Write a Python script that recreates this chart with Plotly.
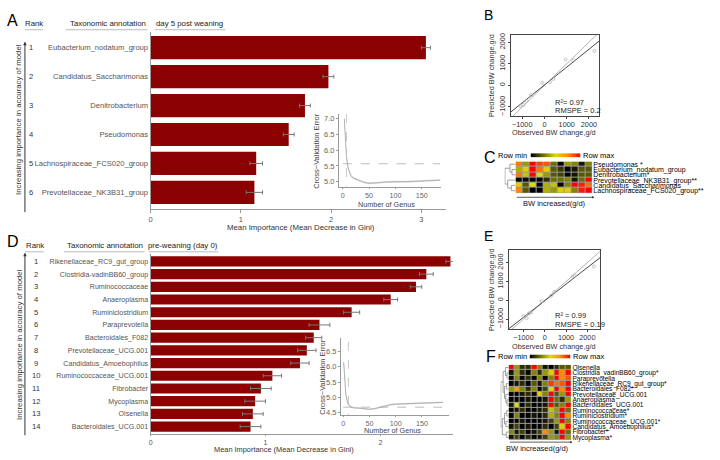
import numpy as np
import plotly.graph_objects as go

W, H = 720, 460
def px(x): return x / W
def py(y): return 1 - y / H

FONT = "Liberation Sans, Arial, sans-serif"
BAR = "#8B0000"

# ---------------- Panel A : day 5 post weaning ----------------
genus_A = ["Eubacterium_nodatum_group", "Candidatus_Saccharimonas", "Denitrobacterium",
           "Pseudomonas", "Lachnospiraceae_FCS020_group", "Prevotellaceae_NK3B31_group"]
imp_A = [3.05, 1.97, 1.71, 1.53, 1.17, 1.15]
err_A = [0.05, 0.06, 0.06, 0.06, 0.07, 0.09]

ngenus_A = [3, 5, 7, 10, 15, 20, 25, 30, 40, 50, 60, 70, 80, 90, 100, 120, 140, 160, 185]
cv_A = [7.0, 6.3, 5.8, 5.45, 5.2, 5.12, 5.08, 5.05, 4.98, 4.95, 4.95, 4.97, 4.99, 5.0, 5.0, 5.0, 5.01, 5.02, 5.05]
cv_A_sd = [0.12, 0.1, 0.08, 0.06, 0.05, 0.04, 0.04, 0.03, 0.03, 0.03, 0.03, 0.03, 0.03, 0.03, 0.03, 0.03, 0.03, 0.03, 0.03]
cv_A_cut = 5.57
cv_A_best = 7

# ---------------- Panel D : pre-weaning (day 0) ----------------
genus_D = ["Rikenellaceae_RC9_gut_group", "Clostridia-vadinBB60_group", "Ruminococcaceae",
           "Anaeroplasma", "Ruminiclostridium", "Paraprevotella", "Bacteroidales_F082",
           "Prevotellaceae_UCG.001", "Candidatus_Amoebophilus", "Ruminococcaceae_UCG.001",
           "Fibrobacter", "Mycoplasma", "Olsenella", "Bacteroidales_UCG.001"]
imp_D = [2.61, 2.40, 2.31, 2.09, 1.75, 1.47, 1.42, 1.36, 1.30, 1.06, 0.96, 0.91, 0.89, 0.87]
err_D = [0.04, 0.06, 0.05, 0.06, 0.07, 0.09, 0.07, 0.08, 0.08, 0.08, 0.09, 0.09, 0.09, 0.09]

ngenus_D = [1, 3, 5, 8, 10, 15, 20, 30, 40, 50, 60, 70, 80, 90, 100, 120, 140, 160, 190]
cv_D = [6.15, 5.6, 5.1, 4.85, 4.75, 4.68, 4.65, 4.64, 4.63, 4.6, 4.62, 4.67, 4.72, 4.75, 4.77, 4.79, 4.8, 4.81, 4.83]
cv_D_sd = [0.12, 0.1, 0.08, 0.05, 0.04, 0.03, 0.03, 0.03, 0.03, 0.03, 0.03, 0.03, 0.03, 0.03, 0.03, 0.03, 0.03, 0.03, 0.03]
cv_D_cut = 4.67
cv_D_best = 10

# ---------------- Panels B / E : observed vs predicted ----------------
obs_B = [-1100, -950, -800, -600, -100, 250, 400, 950, 1300, 2250]
pred_B = [-950, -900, -720, -450, 120, 150, 300, 1200, 1150, 1600]
stats_B = ["R²= 0.97", "RMSPE = 0.2"]

obs_E = [-1000, -850, -750, -650, -150, 300, 450, 1300, 1400, 2300]
pred_E = [-850, -950, -700, -650, -50, 250, 450, 1250, 1300, 1800]
stats_E = ["R² = 0.99", "RMSPE = 0.19"]

bw_ticks = [-1000, 0, 1000, 2000]

# ---------------- Panels C / F : heatmaps (row-scaled) ----------------
rows_C = ["Pseudomonas *", "Eubacterium_nodatum_group", "Denitrobacterium*",
          "Prevotellaceae_NK3B31_group**", "Candidatus_Saccharimonas", "Lachnospiraceae_FCS020_group**"]
z_C = [
    [0.78, 0.35, 1.0, 0.88, 0.85, 0.25, 0.0, 0.35, 0.3, 0.05, 0.3],
    [0.4, 0.55, 1.0, 0.8, 0.55, 0.2, 0.12, 0.0, 0.05, 0.2, 0.2],
    [0.78, 0.45, 1.0, 0.5, 0.35, 0.2, 0.15, 0.0, 0.05, 0.2, 0.2],
    [0.0, 0.02, 0.0, 0.0, 0.1, 0.25, 0.25, 0.3, 0.05, 0.25, 1.0],
    [0.55, 0.2, 0.5, 0.0, 0.4, 0.45, 0.0, 0.3, 1.0, 0.95, 0.8],
    [0.75, 0.2, 0.0, 0.0, 0.4, 0.35, 0.55, 0.55, 0.3, 0.95, 1.0],
]
tree_C = (3.0, (1.6, 0, (1.0, 1, 2)), (2.2, 3, (1.2, 4, 5)))

rows_F = ["Olsenella", "Clostridia_vadinBB60_group*", "Paraprevotella", "Rikenellaceae_RC9_gut_group*",
          "Bacteroidales_F082*", "Prevotellaceae_UCG.001", "Anaeroplasma", "Bacteroidales_UCG.001",
          "Ruminococcaceae*", "Ruminiclostridium*", "Ruminococcaceae_UCG.001*",
          "Candidatus_Amoebophilus*", "Fibrobacter*", "Mycoplasma*"]
z_F = [
    [1.0, 0.35, 0.1, 0.1, 1.0, 0.3, 0.05, 0.0, 0.1, 0.2, 0.2],
    [0.05, 0.35, 0.1, 0.0, 0.3, 0.1, 0.35, 0.55, 1.0, 0.75, 1.0],
    [0.0, 0.3, 0.0, 0.1, 0.0, 0.3, 0.0, 0.3, 1.0, 0.75, 0.85],
    [0.0, 0.05, 0.1, 0.0, 0.2, 0.05, 0.3, 0.9, 0.8, 0.85, 1.0],
    [0.35, 0.7, 0.3, 0.1, 0.3, 0.0, 0.15, 0.5, 1.0, 0.75, 1.0],
    [0.0, 0.0, 0.05, 0.1, 0.0, 0.55, 0.3, 1.0, 0.2, 0.35, 1.0],
    [0.0, 0.0, 0.0, 0.05, 0.0, 0.0, 0.05, 1.0, 0.25, 0.1, 0.35],
    [0.05, 0.5, 0.0, 0.1, 0.0, 0.0, 0.05, 1.0, 0.2, 0.3, 1.0],
    [0.0, 0.05, 0.1, 0.0, 0.0, 0.05, 0.1, 0.45, 0.35, 1.0, 0.25],
    [0.0, 0.3, 0.0, 0.0, 0.05, 0.0, 0.1, 0.4, 0.3, 1.0, 0.75],
    [0.0, 0.0, 0.05, 0.0, 0.0, 0.0, 0.05, 0.15, 0.35, 1.0, 0.3],
    [0.05, 0.15, 0.0, 0.05, 0.0, 0.0, 0.1, 0.0, 0.15, 0.55, 1.0],
    [0.3, 0.05, 0.15, 0.0, 0.05, 0.15, 0.75, 0.35, 0.05, 1.0, 0.25],
    [0.05, 0.15, 0.0, 0.1, 0.0, 0.05, 0.15, 0.35, 0.3, 1.0, 0.35],
]
tree_F = (5.0, (3.5, (2.0, 0, (1.0, 1, 2)), (2.6, (1.4, 3, 4), (1.8, 5, (1.0, 6, 7)))),
          (4.0, (2.6, (1.2, 8, 9), (1.7, 10, 11)), (1.5, 12, 13)))

HEAT_SCALE = [[0, "#000000"], [0.5, "#dcdc00"], [0.75, "#ff8c00"], [1, "#ff0000"]]
legend_ramp = list(np.linspace(0, 1, 60))


def dendro(tree):
    xs, ys = [], []
    def rec(node):
        if isinstance(node, int):
            return node, 0.0
        h, l, r = node
        yl, hl = rec(l)
        yr, hr = rec(r)
        xs.extend([hl, h, h, hr, None])
        ys.extend([yl, yl, yr, yr, None])
        return (yl + yr) / 2, h
    rec(tree)
    return xs, ys


fig = go.Figure()
ann = []
shapes = []

def base_axis(domain, rng, **kw):
    d = dict(domain=domain, range=rng, showgrid=False, zeroline=False, fixedrange=True)
    d.update(kw)
    return d

# ---------- bar panels ----------
def bar_panel(xa, ya, genus, imp, err):
    n = len(genus)
    fig.add_trace(go.Bar(x=imp, y=list(range(1, n + 1)), orientation="h",
                         marker=dict(color=BAR, line=dict(width=0)), width=0.8,
                         error_x=dict(type="data", array=err, color="#777", thickness=1, width=2),
                         xaxis=xa, yaxis=ya))

bar_panel("x", "y", genus_A, imp_A, err_A)
bar_panel("x3", "y3", genus_D, imp_D, err_D)

# ---------- insets ----------
def inset(xa, ya, ng, cv, sd, cut, best):
    up = [c + s for c, s in zip(cv, sd)]
    lo = [c - s for c, s in zip(cv, sd)]
    fig.add_trace(go.Scatter(x=ng + ng[::-1], y=up + lo[::-1], fill="toself", fillcolor="#e2e2e2",
                             line=dict(width=0), mode="lines", xaxis=xa, yaxis=ya, hoverinfo="skip"))
    fig.add_trace(go.Scatter(x=ng, y=cv, mode="lines", line=dict(color="#b0b0b0", width=1),
                             xaxis=xa, yaxis=ya))
    fig.add_trace(go.Scatter(x=[0, max(ng)], y=[cut, cut], mode="lines",
                             line=dict(color="#aaaaaa", width=0.8, dash="dash"), xaxis=xa, yaxis=ya))
    fig.add_trace(go.Scatter(x=[best, best], y=[0, 10], mode="lines",
                             line=dict(color="#bbbbbb", width=0.8, dash="dash"), xaxis=xa, yaxis=ya))

inset("x2", "y2", ngenus_A, cv_A, cv_A_sd, cv_A_cut, cv_A_best)
inset("x4", "y4", ngenus_D, cv_D, cv_D_sd, cv_D_cut, cv_D_best)

# ---------- scatter panels ----------
def obs_pred(xa, ya, obs, pred, xr):
    slope, icpt = np.polyfit(obs, pred, 1)
    xl = np.array([xr[0] - 500, xr[1] + 500])
    fig.add_trace(go.Scatter(x=xl, y=xl, mode="lines", line=dict(color="#aaaaaa", width=0.9),
                             xaxis=xa, yaxis=ya))
    fig.add_trace(go.Scatter(x=xl, y=slope * xl + icpt, mode="lines", line=dict(color="#333333", width=0.9),
                             xaxis=xa, yaxis=ya))
    fig.add_trace(go.Scatter(x=obs, y=pred, mode="markers",
                             marker=dict(size=3, color="rgba(0,0,0,0)", line=dict(color="#aaaaaa", width=0.7)),
                             xaxis=xa, yaxis=ya))

xr_B, yr_B = [-1525, 2470], [-1420, 2350]
xr_E, yr_E = [-1700, 2610], [-1530, 2680]
obs_pred("x5", "y5", obs_B, pred_B, xr_B)
obs_pred("x6", "y6", obs_E, pred_E, xr_E)

# ---------- heatmaps ----------
def heat(xa, ya, z, rows):
    fig.add_trace(go.Heatmap(z=z, x=list(range(len(z[0]))), y=list(range(len(rows))),
                             colorscale=HEAT_SCALE, zmin=0, zmax=1, showscale=False, xgap=1, ygap=1,
                             xaxis=xa, yaxis=ya))

heat("x7", "y7", z_C, rows_C)
heat("x10", "y10", z_F, rows_F)

for xa, ya in [("x8", "y8"), ("x11", "y11")]:
    fig.add_trace(go.Heatmap(z=[legend_ramp], colorscale=HEAT_SCALE, zmin=0, zmax=1, showscale=False,
                             xaxis=xa, yaxis=ya))

dxC, dyC = dendro(tree_C)
fig.add_trace(go.Scatter(x=dxC, y=dyC, mode="lines", line=dict(color="#888", width=0.8), xaxis="x9", yaxis="y9"))
dxF, dyF = dendro(tree_F)
fig.add_trace(go.Scatter(x=dxF, y=dyF, mode="lines", line=dict(color="#888", width=0.8), xaxis="x12", yaxis="y12"))

# grid backgrounds for heatmaps
for xr_, yr_, n_c, n_r in [("x7", "y7", len(z_C[0]), len(rows_C)), ("x10", "y10", len(z_F[0]), len(rows_F))]:
    shapes.append(dict(type="rect", xref=xr_, yref=yr_, x0=-0.5, x1=n_c - 0.5, y0=-0.5, y1=n_r - 0.5,
                       fillcolor="#9a9a9a", line=dict(width=0), layer="below"))

# ---------- layout axes ----------
GR = "#999999"
lay = dict(
    xaxis=base_axis([px(149), px(445)], [0, 3.27], anchor="y", showline=True, linecolor=GR, linewidth=1,
                    ticks="outside", ticklen=3, tickcolor=GR, tickvals=[0, 1, 2, 3],
                    tickfont=dict(size=7.5, color="#555")),
    yaxis=base_axis([py(209), py(30)], [len(genus_A) + 0.58, 0.45], anchor="x", showline=True, linecolor=GR,
                    ticks="", tickvals=list(range(1, len(genus_A) + 1)), ticktext=genus_A,
                    tickfont=dict(size=7.6, color="#555")),
    xaxis2=base_axis([px(338), px(440)], [-7, 186], anchor="y2", showline=True, linecolor=GR, ticks="outside",
                     ticklen=1, tickcolor=GR, tickvals=[0, 50, 100, 150], tickfont=dict(size=7.2, color="#666")),
    yaxis2=base_axis([py(187), py(113)], [4.82, 7.15], anchor="x2", showline=True, linecolor=GR, ticks="outside",
                     ticklen=2, tickcolor=GR, tickvals=[5.0, 5.5, 6.0, 6.5, 7.0], tickformat=".1f",
                     tickfont=dict(size=7.5, color="#666")),
    xaxis3=base_axis([px(149), px(452)], [0, 2.63], anchor="y3", showline=True, linecolor=GR,
                     ticks="outside", ticklen=1, tickcolor=GR, tickvals=[0, 1, 2],
                     tickfont=dict(size=7, color="#555")),
    yaxis3=base_axis([py(436), py(254)], [len(genus_D) + 0.6, 0.4], anchor="x3", showline=True, linecolor=GR,
                     ticks="", tickvals=list(range(1, len(genus_D) + 1)), ticktext=genus_D,
                     tickfont=dict(size=7.1, color="#555")),
    xaxis4=base_axis([px(340), px(448)], [-4, 201], anchor="y4", showline=True, linecolor=GR, ticks="outside",
                     ticklen=1, tickcolor=GR, tickvals=[0, 50, 100, 150], tickfont=dict(size=7.2, color="#666")),
    yaxis4=base_axis([py(417), py(339)], [4.4, 6.95], anchor="x4", showline=True, linecolor=GR, ticks="outside",
                     ticklen=2, tickcolor=GR, tickvals=[4.5, 5.0, 5.5, 6.0, 6.5], tickformat=".1f",
                     tickfont=dict(size=7.5, color="#666")),
    xaxis5=base_axis([px(510), px(599)], xr_B, anchor="y5", showline=True, mirror=True, linecolor="#444",
                     ticks="outside", ticklen=1.5, tickcolor="#444", tickvals=bw_ticks,
                     tickfont=dict(size=7.3, color="#333")),
    yaxis5=base_axis([py(115), py(33)], yr_B, anchor="x5", showline=True, mirror=True, linecolor="#444",
                     ticks="outside", ticklen=1.5, tickcolor="#444", tickvals=bw_ticks, tickangle=-90,
                     tickfont=dict(size=7.3, color="#333")),
    xaxis6=base_axis([px(508), px(600)], xr_E, anchor="y6", showline=True, mirror=True, linecolor="#444",
                     ticks="outside", ticklen=1.5, tickcolor="#444", tickvals=bw_ticks,
                     tickfont=dict(size=7.3, color="#333")),
    yaxis6=base_axis([py(330), py(250)], yr_E, anchor="x6", showline=True, mirror=True, linecolor="#444",
                     ticks="outside", ticklen=1.5, tickcolor="#444", tickvals=bw_ticks, tickangle=-90,
                     tickfont=dict(size=7.3, color="#333")),
    xaxis7=base_axis([px(515), px(592)], [-0.5, len(z_C[0]) - 0.5], anchor="y7", showticklabels=False, ticks=""),
    yaxis7=base_axis([py(193), py(161)], [len(rows_C) - 0.5, -0.5], anchor="x7", side="right", ticks="",
                     tickvals=list(range(len(rows_C))), ticktext=rows_C, tickfont=dict(size=7, color="#000000")),
    xaxis8=base_axis([px(530), px(580)], [-0.5, len(legend_ramp) - 0.5], anchor="y8", showticklabels=False, ticks=""),
    yaxis8=base_axis([py(157), py(152.5)], [-0.5, 0.5], anchor="x8", showticklabels=False, ticks=""),
    xaxis9=base_axis([px(504), px(515)], [3.1, 0], anchor="y9", showticklabels=False, ticks=""),
    yaxis9=base_axis([py(193), py(161)], [len(rows_C) - 0.5, -0.5], anchor="x9", showticklabels=False, ticks=""),
    xaxis10=base_axis([px(508), px(571)], [-0.5, len(z_F[0]) - 0.5], anchor="y10", showticklabels=False, ticks=""),
    yaxis10=base_axis([py(442), py(366)], [len(rows_F) - 0.5, -0.5], anchor="x10", side="right", ticks="",
                      tickvals=list(range(len(rows_F))), ticktext=rows_F, tickfont=dict(size=6.6, color="#000000")),
    xaxis11=base_axis([px(529), px(570)], [-0.5, len(legend_ramp) - 0.5], anchor="y11", showticklabels=False, ticks=""),
    yaxis11=base_axis([py(360), py(355.5)], [-0.5, 0.5], anchor="x11", showticklabels=False, ticks=""),
    xaxis12=base_axis([px(500), px(508)], [5.1, 0], anchor="y12", showticklabels=False, ticks=""),
    yaxis12=base_axis([py(442), py(366)], [len(rows_F) - 0.5, -0.5], anchor="x12", showticklabels=False, ticks=""),
)

def text(x, y, s, size=8, color="#333", xanchor="center", angle=0, yref="paper", yv=None):
    ann.append(dict(x=px(x), y=py(y) if yv is None else yv, xref="paper", yref=yref, text=s,
                    showarrow=False, xanchor=xanchor, yanchor="middle", textangle=angle,
                    font=dict(size=size, color=color)))

# panel letters
for lbl, x, y, s in [("A", 11, 19, 16), ("D", 11, 242, 16), ("B", 488, 13, 14), ("C", 489, 157, 16),
                     ("E", 488, 236, 14), ("F", 490, 358, 16)]:
    text(x, y, lbl, size=s, color="#000")

# headers + underlines
def header(y, items):
    for s, cx, x0, x1 in items:
        text(cx, y, s, size=7.8, color="#222")
        shapes.append(dict(type="line", xref="paper", yref="paper", x0=px(x0), x1=px(x1),
                           y0=py(y + 6), y1=py(y + 6), line=dict(color="#bbbbbb", width=1)))

header(22, [("Rank", 32, 23, 41), ("Taxonomic annotation", 106, 64, 146), ("day 5 post weaning", 188, 153, 224)])
header(246, [("Rank", 33, 23, 42), ("Taxonomic annotation", 103, 62, 143), ("pre-weaning (day 0)", 182, 147, 217)])

# rank numbers
for i in range(len(genus_A)):
    text(29, 0, str(i + 1), size=7.6, color="#333", yref="y", yv=i + 1)
for i in range(len(genus_D)):
    text(34, 0, str(i + 1), size=7.6, color="#333", yref="y3", yv=i + 1)

# left vertical titles with arrows
text(17, 118, "Increasing importance in accuracy of model", size=7.8, color="#333", angle=-90)
text(17, 345, "Increasing importance in accuracy of model", size=7.8, color="#333", angle=-90)
for top, bot in [(40, 212), (253, 437)]:
    ann.append(dict(x=px(23), y=py(top), xref="paper", yref="paper", ax=0, ay=bot - top, text="",
                    showarrow=True, arrowhead=2, arrowsize=0.7, arrowwidth=1, arrowcolor="#333"))

# axis titles
text(300, 227, "Mean Importance (Mean Decrease in Gini)", size=7.8, color="#333")
text(283, 451.5, "Mean Importance (Mean Decrease in Gini)", size=7.4, color="#333")
text(386, 204, "Number of Genus", size=7.2, color="#444")
text(316, 150, "Cross\u2212Validation Error", size=7.5, color="#444", angle=-90)
text(392, 432, "Number of Genus", size=7.2, color="#444")
text(322, 378, "Cross\u2212Validation Error", size=7.5, color="#444", angle=-90)

text(554, 132, "Observed BW change,g/d", size=7.3, color="#333")
text(491, 74, "Predicted BW change,g/d", size=7.3, color="#333", angle=-90)
text(553, 101, stats_B[0], size=7.5, color="#222", xanchor="left")
text(553, 109.5, stats_B[1], size=7.5, color="#222", xanchor="left")

text(554, 347.5, "Observed BW change,g/d", size=7.3, color="#333")
text(491, 290, "Predicted BW change,g/d", size=7.3, color="#333", angle=-90)
text(553, 316.5, stats_E[0], size=7.5, color="#222", xanchor="left")
text(553, 325, stats_E[1], size=7.5, color="#222", xanchor="left")

# heatmap legends
text(528, 155, "Row min", size=7.5, color="#000", xanchor="right")
text(581, 155, "Row max", size=7.5, color="#000", xanchor="left")
text(528, 358, "Row min", size=7.5, color="#000", xanchor="right")
text(571, 358, "Row max", size=7.5, color="#000", xanchor="left")

# BW increased brackets
for x0, x1, yl, cx, ty in [(515, 594, 197, 554, 203), (508, 572, 444, 537, 450)]:
    ann.append(dict(x=px(x1), y=py(yl), xref="paper", yref="paper", ax=-(x1 - x0), ay=0, text="",
                    showarrow=True, arrowhead=2, arrowsize=0.6, arrowwidth=0.8, arrowcolor="#333"))
    text(cx, ty, "BW increased(g/d)", size=7.5, color="#111")

fig.update_layout(width=W, height=H, margin=dict(l=0, r=0, t=0, b=0), showlegend=False,
                  plot_bgcolor="white", paper_bgcolor="white", font=dict(family=FONT, size=8, color="#333"),
                  annotations=ann, shapes=shapes, bargap=0.2, **lay)

fig.write_html("out.html")
